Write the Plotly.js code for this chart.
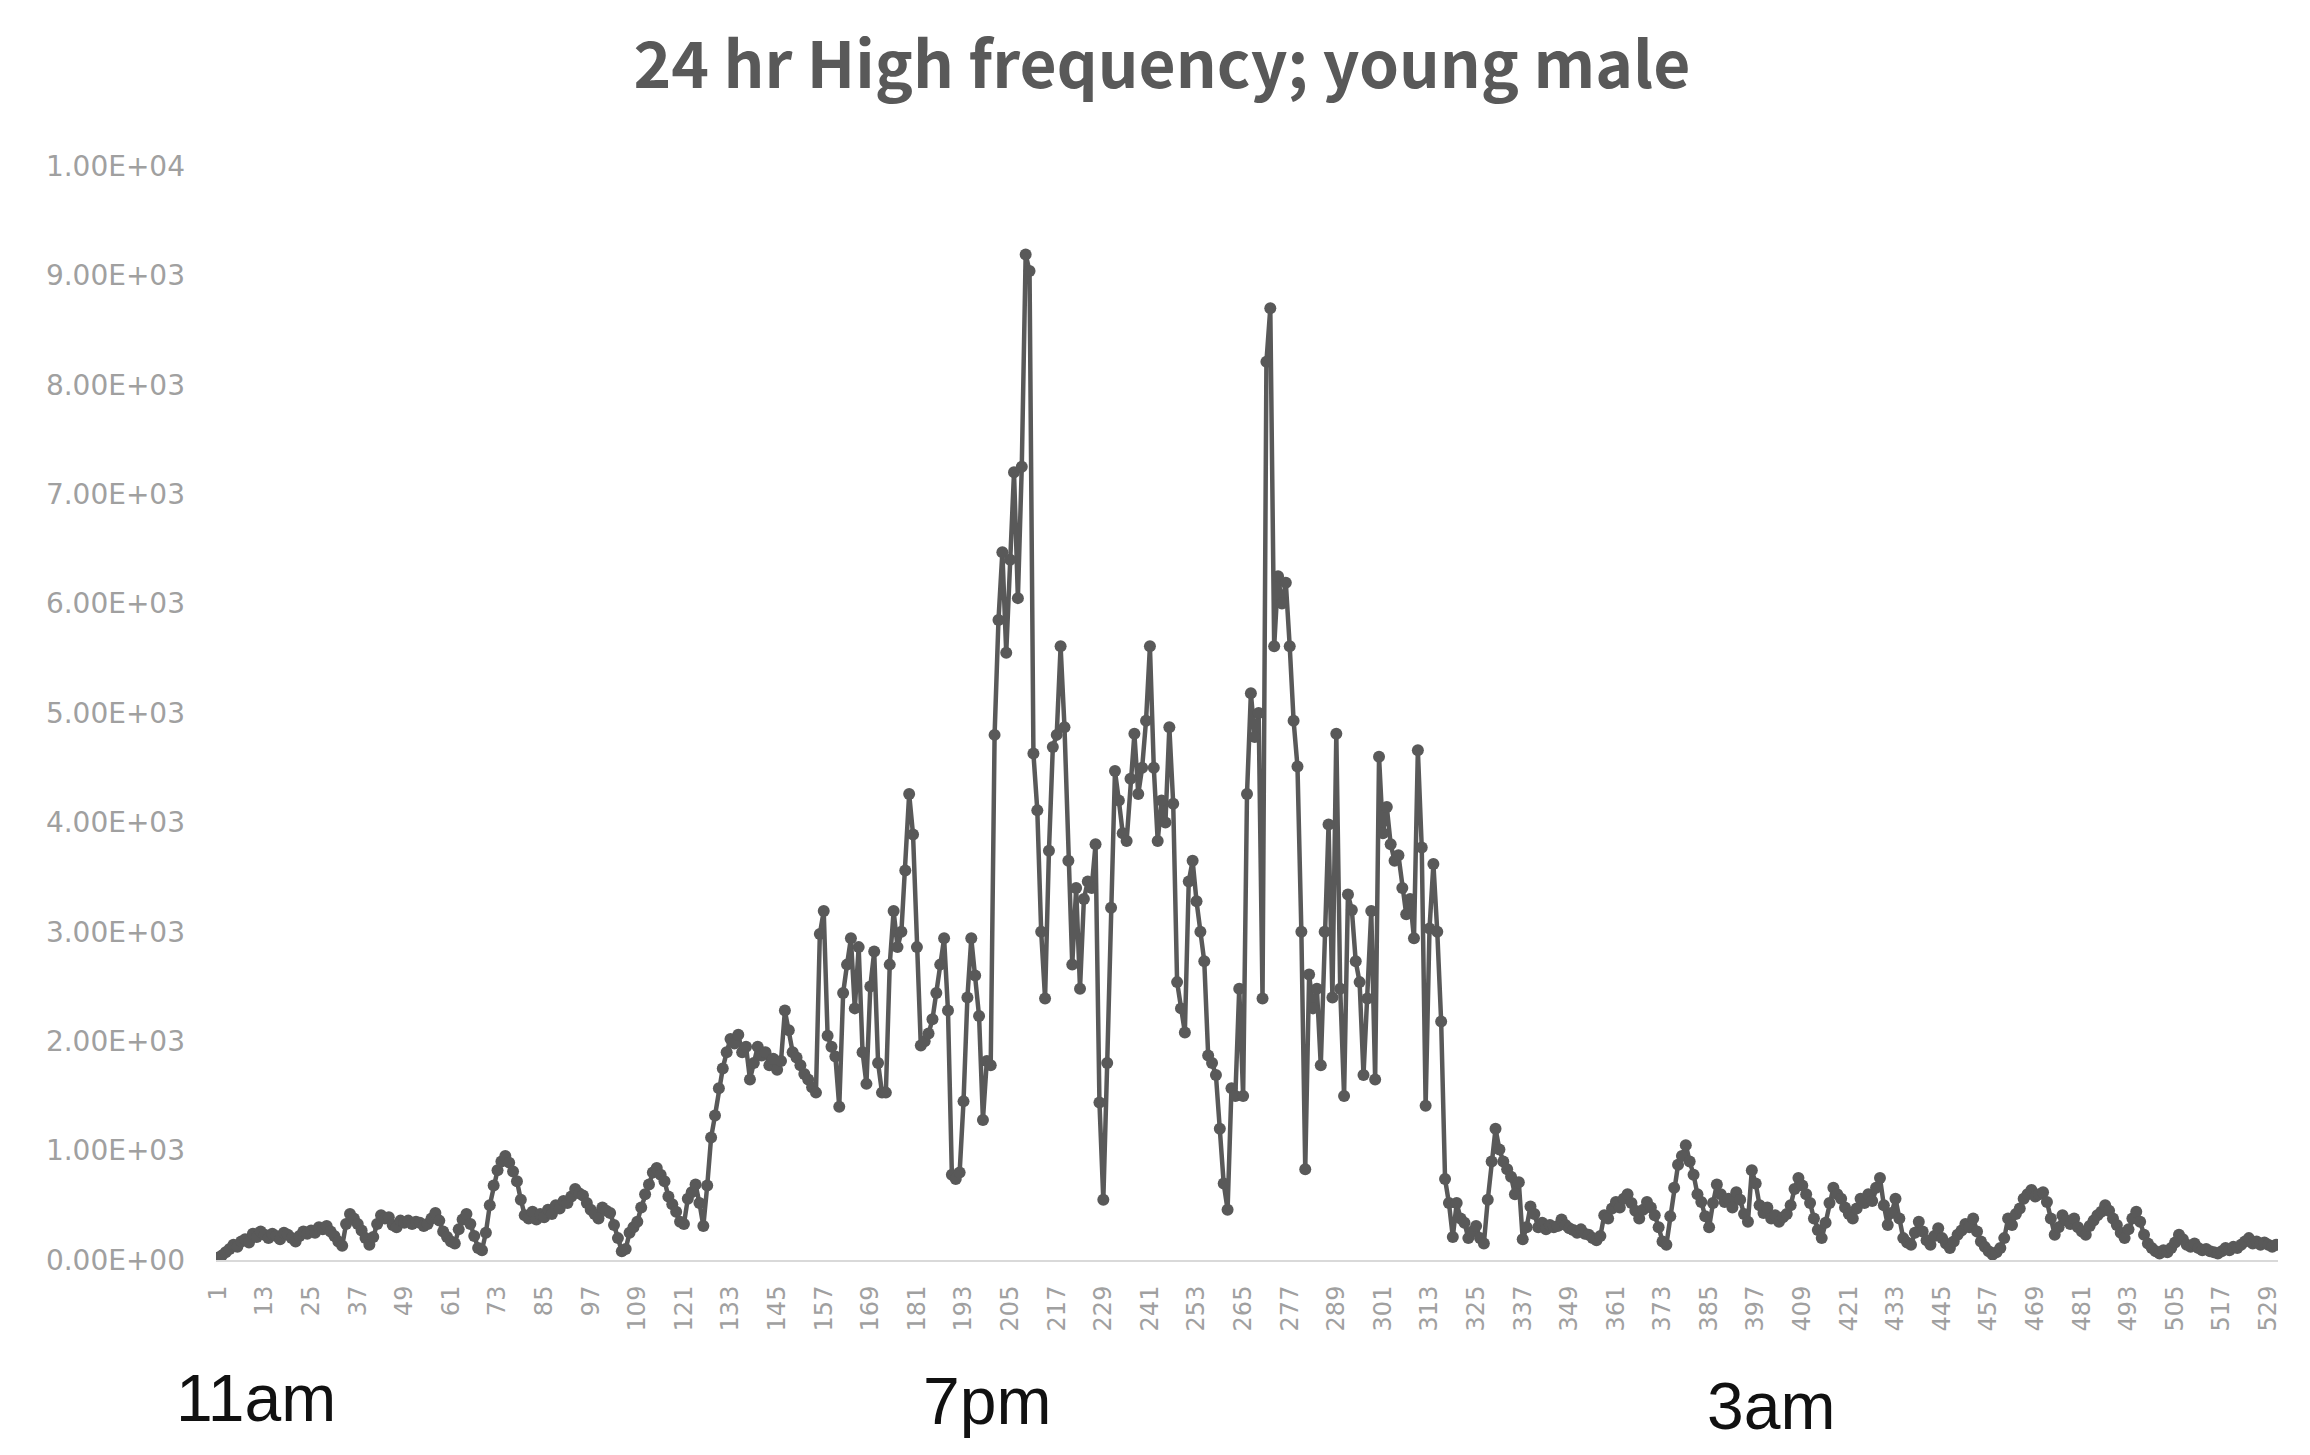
<!DOCTYPE html>
<html><head><meta charset="utf-8">
<script src="https://cdn.plot.ly/plotly-3.0.1.min.js"></script>
<style>html,body{margin:0;padding:0;background:#fff;}#chart{width:2310px;height:1455px;}</style>
</head><body><div id="chart"></div>
<script>
// High-frequency power readings, samples 1..531
const valuesA = [
  20, 40, 70, 100, 140, 120, 170, 190, 160, 240, 210, 260,
  230, 200, 240, 220, 190, 250, 230, 200, 170, 220, 260, 240,
  270, 250, 300, 280, 310, 260, 220, 170, 130, 330, 420, 380,
  330, 270, 200, 140, 210, 330, 410, 380, 390, 320, 300, 360,
  340, 360, 330, 350, 340, 310, 330, 380, 430, 360, 260, 210,
  170, 150, 280, 370, 420, 330, 220, 110, 90, 250, 500, 680,
  820, 900, 950, 890, 810, 720, 550, 410, 380, 440, 370, 420,
  390, 460, 420, 500, 470, 540, 520, 580, 650, 610, 590, 520,
  460, 420, 380, 480, 450, 430, 320, 200, 80, 100, 250, 300,
  350, 480, 600, 690, 800, 840, 780, 720, 580, 510, 440, 350
];
const valuesB = [
  330, 560, 620, 690, 520, 310, 680, 1120, 1320, 1570, 1750, 1900,
  2020, 1980, 2060, 1900, 1950, 1650, 1800, 1950, 1870, 1900, 1780, 1840,
  1740, 1820, 2280, 2100, 1900, 1850, 1780, 1700, 1650, 1580, 1530, 2980,
  3190, 2050, 1950, 1860, 1400, 2440, 2700, 2940, 2300, 2860, 1900, 1610,
  2500, 2820, 1800, 1530, 1530, 2700, 3190, 2860, 3000, 3560, 4260, 3890,
  2860, 1960, 2000, 2070, 2200, 2440, 2700, 2940, 2280, 780, 740, 800,
  1450, 2400, 2940, 2600, 2230, 1280, 1820, 1780, 4800, 5850, 6470, 5550,
  6400, 7200, 6050, 7250, 9190, 9040, 4630, 4110, 3000, 2390, 3740, 4690,
  4800, 5610, 4870, 3650, 2700, 3400, 2480, 3300, 3460, 3400, 3800, 1440,
  550, 1800, 3220, 4470, 4200, 3900, 3830, 4400, 4810, 4260, 4500, 4930
];
const valuesC = [
  5610, 4500, 3830, 4200, 4000, 4870, 4170, 2540, 2300, 2080, 3460, 3650,
  3280, 3000, 2730, 1870, 1800, 1690, 1200, 700, 460, 1570, 1500, 2480,
  1500, 4260, 5180, 4780, 5000, 2390, 8210, 8700, 5610, 6250, 6000, 6190,
  5610, 4930, 4510, 3000, 830, 2610, 2300, 2480, 1780, 3000, 3980, 2400,
  4810, 2480, 1500, 3340, 3200, 2730, 2540, 1690, 2390, 3190, 1650, 4600,
  3900, 4140, 3800, 3650, 3700, 3400, 3160, 3300, 2940, 4660, 3770, 1410,
  3030, 3620, 3000, 2180, 740, 520, 210, 520, 380, 340, 200, 260,
  310, 200, 150, 550, 900, 1200, 1010, 900, 830, 760, 600, 710,
  190, 300, 490, 420, 300, 340, 280, 320, 300, 310, 370, 320,
  290, 275, 250, 280, 240, 230, 200, 180, 220, 410, 380, 470
];
const valuesD = [
  530, 480, 560, 600, 520, 450, 380, 460, 530, 480, 410, 300,
  170, 140, 400, 660, 870, 950, 1050, 900, 780, 600, 530, 400,
  300, 520, 690, 600, 530, 560, 480, 620, 550, 420, 350, 820,
  700, 500, 430, 480, 380, 410, 350, 390, 420, 500, 650, 750,
  680, 600, 520, 380, 275, 200, 340, 520, 660, 600, 560, 480,
  420, 380, 470, 560, 520, 600, 540, 660, 750, 500, 320, 430,
  560, 380, 200, 160, 140, 250, 350, 260, 180, 140, 220, 290,
  200, 150, 110, 170, 230, 270, 330, 300, 380, 260, 170, 120,
  80, 50, 70, 110, 200, 380, 320, 420, 470, 560, 600, 640,
  580, 600, 620, 530, 380, 230, 300, 410, 360, 330, 380, 300
];
const valuesE = [
  260, 230, 310, 360, 410, 440, 500, 450, 380, 320, 250, 200,
  280, 380, 440, 350, 230, 150, 110, 80, 60, 90, 70, 110,
  160, 230, 190, 140, 120, 150, 110, 90, 100, 80, 70, 60,
  80, 110, 90, 120, 110, 140, 170, 200, 150, 170, 140, 160,
  140, 120, 140
];
const xTickLabels = ['1','13','25','37','49','61','73','85','97','109','121','133','145','157','169','181','193','205','217','229','241','253','265','277','289','301','313','325','337','349','361','373','385','397','409','421','433','445','457','469','481','493','505','517','529'];
const yTickValues = [0,1000,2000,3000,4000,5000,6000,7000,8000,9000,10000];
const timeLabels = ['11am','7pm','3am'];
const chartTitle = '24 hr High frequency; young male';

const values = [].concat(valuesA, valuesB, valuesC, valuesD, valuesE);
const categories = values.map((_, i) => i + 1);

function sci(v){
  if (v === 0) return '0.00E+00';
  const e = Math.floor(Math.log10(v));
  const m = v / Math.pow(10, e);
  return m.toFixed(2) + 'E+' + String(e).padStart(2, '0');
}

const trace = {
  x: categories, y: values, type: 'scatter', mode: 'lines+markers',
  line: {color: '#595959', width: 4.5},
  marker: {color: '#595959', size: 12, symbol: 'circle'},
  hoverinfo: 'skip'
};

const layout = {
  width: 2310, height: 1455,
  paper_bgcolor: '#ffffff', plot_bgcolor: '#ffffff',
  margin: {l: 216, r: 32, t: 166, b: 195},
  showlegend: false,
  title: {
    text: chartTitle, xref: 'container', yref: 'container',
    x: 0.503, y: 0.955, xanchor: 'center', yanchor: 'middle',
    font: {family: 'Noto Sans CJK JP, Noto Sans, sans-serif', size: 64, color: '#595959', weight: 700}
  },
  xaxis: {
    range: [0.5, values.length + 0.5],
    tickmode: 'array',
    tickvals: xTickLabels.map(Number),
    ticktext: xTickLabels,
    tickangle: -90,
    tickfont: {family: 'DejaVu Sans', size: 24, color: '#a0a0a0'},
    ticks: '', showgrid: false, zeroline: false,
    showline: true, linecolor: '#d9d9d9', linewidth: 2,
    ticklabelstandoff: 14
  },
  yaxis: {
    range: [0, 10000],
    tickmode: 'array',
    tickvals: yTickValues,
    ticktext: yTickValues.map(sci),
    tickfont: {family: 'DejaVu Sans', size: 28, color: '#a0a0a0'},
    ticks: '', showgrid: false, zeroline: false, showline: false,
    ticklabelstandoff: 30
  },
  annotations: [
    {text: timeLabels[0], xref: 'x', yref: 'paper', x: 10.8, y: -0.126, xanchor: 'center', yanchor: 'middle', showarrow: false,
     font: {family: 'Liberation Sans, Arial, sans-serif', size: 66, color: '#111111'}},
    {text: timeLabels[1], xref: 'x', yref: 'paper', x: 199, y: -0.129, xanchor: 'center', yanchor: 'middle', showarrow: false,
     font: {family: 'Liberation Sans, Arial, sans-serif', size: 66, color: '#111111'}},
    {text: timeLabels[2], xref: 'x', yref: 'paper', x: 401, y: -0.133, xanchor: 'center', yanchor: 'middle', showarrow: false,
     font: {family: 'Liberation Sans, Arial, sans-serif', size: 66, color: '#111111'}}
  ]
};

Plotly.newPlot('chart', [trace], layout, {displayModeBar: false, staticPlot: true});
</script>
</body></html>
